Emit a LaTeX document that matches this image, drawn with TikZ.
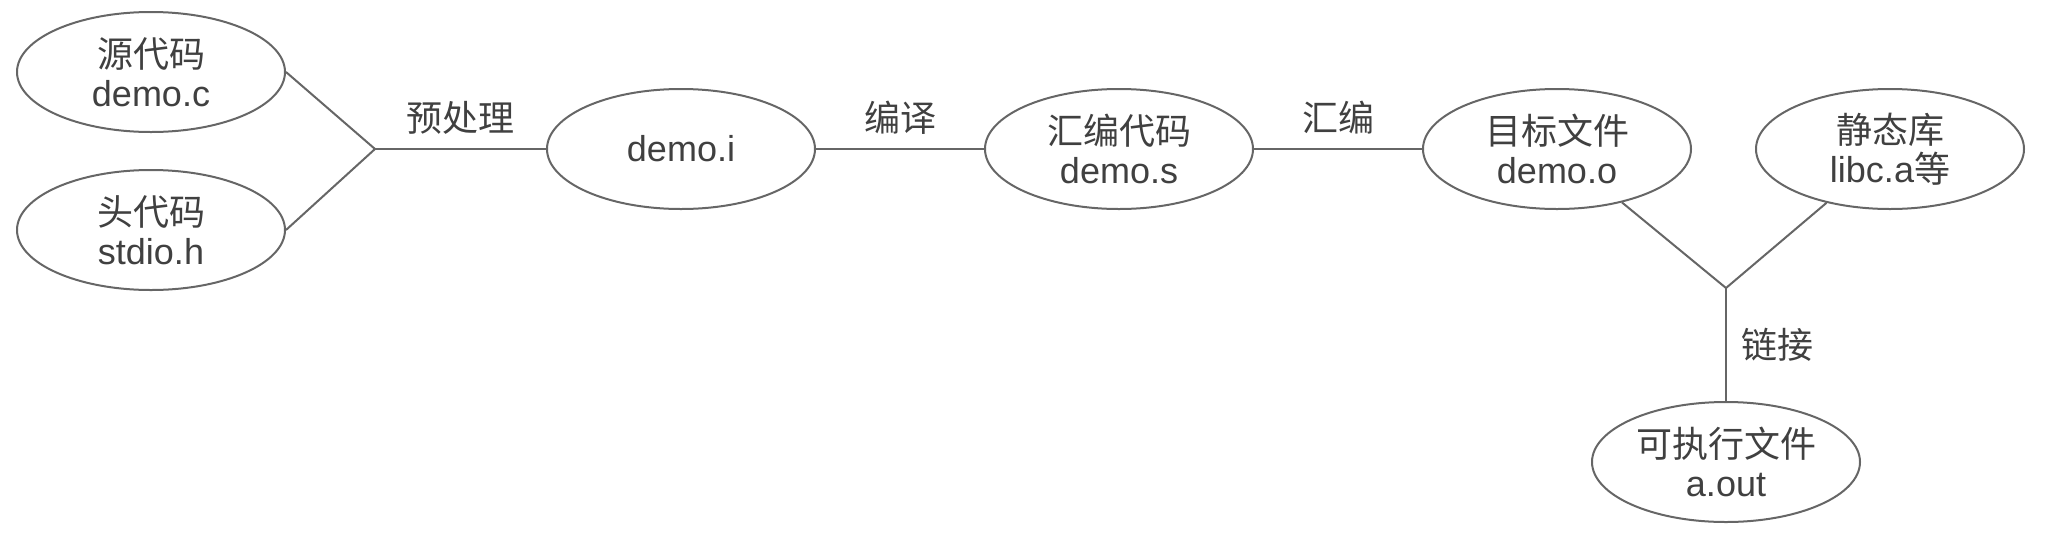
\documentclass[tikz,border=0pt]{standalone}
\usepackage{fontspec}
\setmainfont{Liberation Sans}
\newfontfamily\cjk{Noto Sans CJK SC}
\usetikzlibrary{shapes.geometric}
\tikzset{>=latex}
\tikzset{
    file/.style={ellipse, draw=black!60, line width=1pt, minimum width=134pt, minimum height=60pt,
        inner sep=0pt, align=center, text=black!75, font=\fontsize{18}{19.5}\selectfont},
    stage/.style={inner sep=0pt, text=black!75, font=\fontsize{18}{19.5}\selectfont\cjk},
    wire/.style={draw=black!60, line width=1pt}
}

\begin{document}
\begin{tikzpicture}[x=0.5pt, y=-0.5pt, line join = round]
    \useasboundingbox (0,0) rectangle (2046,558);

    \node[file] (src) at (151,72) {{\cjk 源代码}\\demo.c};
    \node[file] (hdr) at (151,230) {{\cjk 头代码}\\stdio.h};
    \coordinate (j1) at (375,149);

    \node[file] (pre) at (681,149) {demo.i};
    \node[file] (asm) at (1119,149) {{\cjk 汇编代码}\\demo.s};
    \node[file] (obj) at (1557,149) {{\cjk 目标文件}\\demo.o};
    \node[file] (lib) at (1890,149) {{\cjk 静态库}\\libc.a{\cjk 等}};
    \coordinate (j2) at (1726,288);
    \node[file] (exe) at (1726,462) {{\cjk 可执行文件}\\a.out};

    \draw[wire] (src.east) -- (j1);
    \draw[wire] (hdr.east) -- (j1);
    \draw[wire] (j1) -- node[stage, above=7pt] {预处理} (pre);
    \draw[wire] (pre) -- node[stage, above=7pt] {编译} (asm);
    \draw[wire] (asm) -- node[stage, above=7pt] {汇编} (obj);

    \draw[wire] (obj) -- (j2);
    \draw[wire] (lib) -- (j2);
    \draw[wire] (j2) -- node[stage, right=7pt] {链接} (exe.north);

\end{tikzpicture}
\end{document}
